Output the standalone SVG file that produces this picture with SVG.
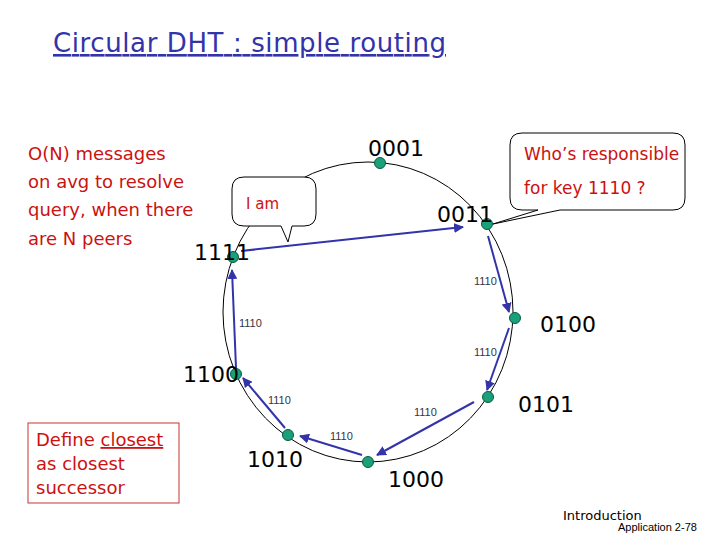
<svg xmlns="http://www.w3.org/2000/svg" width="720" height="540" viewBox="0 0 720 540">
<defs>
<style>
.red{fill:#cc1111;font-family:"DejaVu Sans",sans-serif}
.nl{fill:#000;font-family:"DejaVu Sans",sans-serif;font-size:22px}
.kl{fill:#334;font-family:"Liberation Sans",sans-serif;font-size:11px}
.node{fill:#1aa07a;stroke:#0b5a40;stroke-width:1}
.ar{stroke:#3333aa;stroke-width:2;fill:none;marker-end:url(#ah)}
</style>
<marker id="ah" viewBox="0 0 10 10" refX="9" refY="5" markerWidth="5" markerHeight="5" orient="auto"><path d="M0,0L10,5L0,10z" fill="#3333aa"/></marker>
</defs>
<rect width="720" height="540" fill="#fff"/>
<text x="53" y="52" font-family="DejaVu Sans,sans-serif" font-size="26" fill="#3333aa" text-decoration="underline" textLength="393">Circular DHT : simple routing</text>
<g id="note1"><text class="red" font-size="18"><tspan x="28" y="160">O(N) messages</tspan><tspan x="28" y="188">on avg to resolve</tspan><tspan x="28" y="216">query, when there</tspan><tspan x="28" y="245">are N peers</tspan></text></g>
<g id="note2"><rect x="28" y="423" width="151" height="80" fill="none" stroke="#cc3333"/>
<text class="red" font-size="18"><tspan x="36" y="446">Define <tspan text-decoration="underline">closest</tspan></tspan><tspan x="36" y="470">as closest</tspan><tspan x="36" y="494">successor</tspan></text></g>
<ellipse id="ring" cx="368" cy="312" rx="145" ry="150" fill="none" stroke="#000" stroke-width="1"/>
<g id="connectors">
<line class="ar" x1="241" y1="251" x2="463" y2="227"/>
<line class="ar" x1="488" y1="236" x2="509" y2="312"/>
<line class="ar" x1="509" y1="328" x2="487" y2="390"/>
<line class="ar" x1="474" y1="402" x2="377" y2="455"/>
<line class="ar" x1="362" y1="455" x2="300" y2="436"/>
<line class="ar" x1="285" y1="428" x2="243" y2="378"/>
<line class="ar" x1="236" y1="368" x2="232" y2="270"/>
<text class="kl" x="474" y="285">1110</text>
<text class="kl" x="239" y="327">1110</text>
<text class="kl" x="474" y="356">1110</text>
<text class="kl" x="268" y="404">1110</text>
<text class="kl" x="414" y="416">1110</text>
<text class="kl" x="330" y="440">1110</text>
</g>
<g id="n0001"><circle class="node" cx="380" cy="163" r="5.5"/><text class="nl" x="368" y="156">0001</text></g>
<g id="n0011"><circle class="node" cx="487" cy="224" r="5.5"/><text class="nl" x="437" y="222">0011</text></g>
<g id="n0100"><circle class="node" cx="515" cy="318" r="5.5"/><text class="nl" x="540" y="332">0100</text></g>
<g id="n0101"><circle class="node" cx="488" cy="397" r="5.5"/><text class="nl" x="518" y="412">0101</text></g>
<g id="n1000"><circle class="node" cx="368" cy="462" r="5.5"/><text class="nl" x="388" y="487">1000</text></g>
<g id="n1010"><circle class="node" cx="288" cy="435" r="5.5"/><text class="nl" x="247" y="467">1010</text></g>
<g id="n1100"><circle class="node" cx="236" cy="374" r="5.5"/><text class="nl" x="183" y="382">1100</text></g>
<g id="n1111"><circle class="node" cx="233" cy="257" r="5.5"/><text class="nl" x="194" y="260">1111</text></g>
<g id="callout1"><path d="M244,177H304Q316,177 316,189V214Q316,226 304,226H292L288,242L281,226H244Q232,226 232,214V189Q232,177 244,177Z" fill="#fff" stroke="#000"/><text class="red" x="246" y="209" font-size="15">I am</text></g>
<g id="callout2"><path d="M522,133H673Q685,133 685,145V198Q685,210 673,210H560L493,224L538,210H522Q510,210 510,198V145Q510,133 522,133Z" fill="#fff" stroke="#000"/><text class="red" font-size="17"><tspan x="524" y="160">Who’s responsible</tspan><tspan x="524" y="194">for key 1110 ?</tspan></text></g>
<text x="563" y="520" font-family="DejaVu Sans,sans-serif" font-size="13">Introduction</text>
<text x="618" y="531" font-family="Liberation Sans,sans-serif" font-size="11">Application  2-78</text>
</svg>
